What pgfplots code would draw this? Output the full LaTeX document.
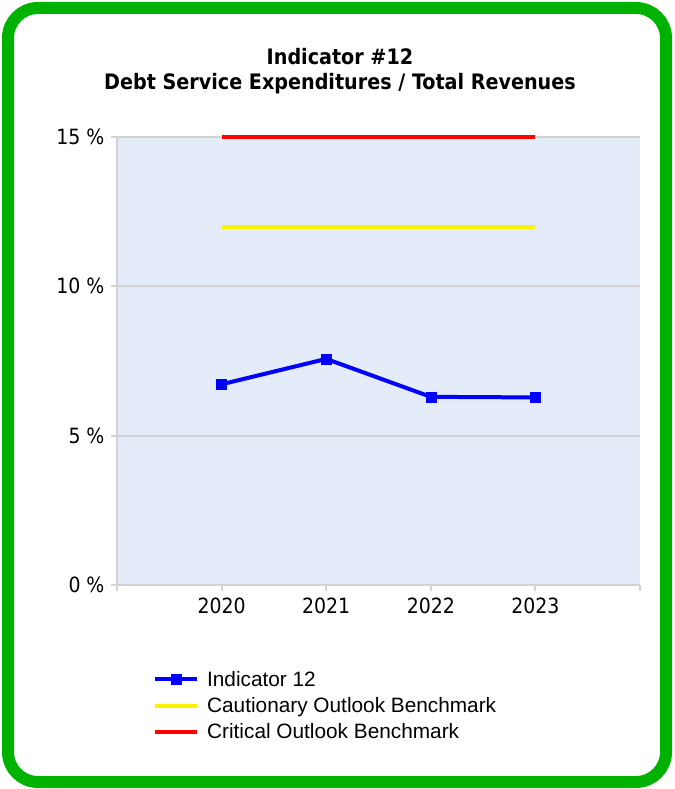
\documentclass[border=0pt]{standalone}
\usepackage{pgfplots}
\pgfplotsset{compat=1.18}
\usepackage{fontspec}
\setmainfont{Liberation Sans}
\newfontfamily\tahoma{DejaVu Sans Condensed}
\definecolor{framegreen}{RGB}{0,178,0}
\definecolor{plotbg}{RGB}{229,236,249}
\definecolor{gridgray}{RGB}{211,211,211}

\begin{document}
\begin{tikzpicture}
\useasboundingbox (0,0) rectangle (674pt,-789pt);
\fill[white] (0,0) rectangle (674pt,-789pt);
\draw[framegreen, line width=12pt, rounded corners=30pt] (8pt,-8pt) rectangle (666pt,-782pt);
\node[font=\tahoma\bfseries\fontsize{21.3}{25}\selectfont, align=center] at (340pt,-71pt)
  {Indicator \#12\\Debt Service Expenditures / Total Revenues};

\begin{axis}[
  at={(117pt,-585pt)}, anchor=south west,
  width=523pt, height=448pt, scale only axis,
  xmin=2019, xmax=2024, ymin=0, ymax=15,
  clip=false,
  xtick={2019,2020,2021,2022,2023,2024},
  xticklabels={,2020,2021,2022,2023,},
  ytick={0,5,10,15},
  /pgf/number format/assume math mode=true,
  yticklabel={\pgfmathprintnumber{\tick}~\%},
  axis background/.style={fill=plotbg},
  axis x line*=bottom, axis y line*=left,
  axis line style={gridgray, line width=2pt, -},
  tick style={gridgray, line width=2pt},
  major tick length=6pt, tick align=outside,
  ymajorgrids, grid style={gridgray, line width=2pt},
  ticklabel style={font=\tahoma\fontsize{21}{22}\selectfont, text=black},
  yticklabel style={xshift=-3pt},
  xticklabel style={yshift=-3pt},
  legend style={at={(0.063,-0.183)}, anchor=north west, draw=none, fill=none,
    font=\fontsize{20.8}{22}\selectfont, row sep=5.5pt, cells={anchor=west},
    /tikz/every odd column/.style={column sep=6pt}},
  legend image code/.code={\draw[mark repeat=2,mark phase=2,#1]
    plot coordinates {(0pt,0pt) (21pt,0pt) (42pt,0pt)};},
]
\addplot[blue, line width=4pt, mark=square*, mark size=5pt, mark options={line width=0.5pt}]
  coordinates {(2020,6.72) (2021,7.57) (2022,6.30) (2023,6.28)};
\addlegendentry{Indicator 12}
\addplot[yellow, line width=4pt]
  coordinates {(2020,12) (2021,12) (2022,12) (2023,12)};
\addlegendentry{Cautionary Outlook Benchmark}
\addplot[red, line width=4pt]
  coordinates {(2020,15) (2021,15) (2022,15) (2023,15)};
\addlegendentry{Critical Outlook Benchmark}
\end{axis}
\end{tikzpicture}
\end{document}
